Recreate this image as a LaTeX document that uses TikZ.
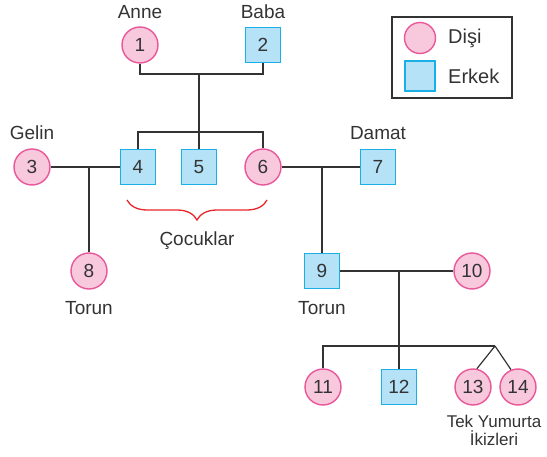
\documentclass[tikz,border=0pt]{standalone}
\usepackage{fontspec}
\setmainfont{Liberation Sans}
\usetikzlibrary{decorations.pathreplacing}
\definecolor{pinkfill}{HTML}{F8C9DC}
\definecolor{pinkline}{HTML}{E9579A}
\definecolor{bluefill}{HTML}{B5E2F7}
\definecolor{blueline}{HTML}{1AAFE6}
\definecolor{linegray}{HTML}{333333}
\definecolor{bracered}{HTML}{E8262A}
\begin{document}
\begin{tikzpicture}[x=1pt,y=-1pt,
  female/.style={circle,draw=pinkline,fill=pinkfill,line width=1.4pt,minimum size=36pt,inner sep=0pt,font=\fontsize{19}{22}\selectfont,text=linegray},
  male/.style={rectangle,draw=blueline,fill=bluefill,line width=1.4pt,minimum size=35pt,inner sep=0pt,font=\fontsize{19}{22}\selectfont,text=linegray},
  lbl/.style={font=\fontsize{19}{22}\selectfont,text=linegray,inner sep=0pt},
  conn/.style={draw=linegray,line width=1.2pt}]
\useasboundingbox (0,0) rectangle (547,457);
% nodes
\node[female] (n1) at (140,45) {1};
\node[male] (n2) at (263,45) {2};
\node[female] (n3) at (32,167) {3};
\node[male] (n4) at (138,167) {4};
\node[male] (n5) at (199,167) {5};
\node[female] (n6) at (263,167) {6};
\node[male] (n7) at (378,167) {7};
\node[female] (n8) at (89,271) {8};
\node[male] (n9) at (322,271) {9};
\node[female] (n10) at (472,271) {10};
\node[female] (n11) at (323,387) {11};
\node[male] (n12) at (399,387) {12};
\node[female] (n13) at (473,387) {13};
\node[female] (n14) at (518,387) {14};
% labels
\node[lbl] (lanne) at (140,12) {Anne};
\node[lbl] (lbaba) at (263,12) {Baba};
\node[lbl] (lgelin) at (32,133) {Gelin};
\node[lbl] (ldamat) at (378,133) {Damat};
\node[lbl] (ltorun1) at (89,308) {Torun};
\node[lbl] (ltorun2) at (322,308) {Torun};
\node[lbl] (lcocuk) at (197,241) {Çocuklar};
\node[lbl,font=\fontsize{17}{19}\selectfont,align=center] (ltwins) at (494,430) {Tek Yumurta\\[-1pt]İkizleri};
% coordinates
\coordinate (p12) at (199,74);
\coordinate (c1) at (199,132);
\coordinate (m34) at (89,167);
\coordinate (m67) at (322,167);
\coordinate (m910) at (399,271);
\coordinate (tw) at (495,346);
% connectors
\draw[conn] (n1.south) |- (p12) -| (n2.south);
\draw[conn] (p12) -- (n5.north);
\draw[conn] (n4.north) |- (c1) -| (n6.north);
\draw[conn] (n3.east) -- (n4.west);
\draw[conn] (m34) -- (n8.north);
\draw[conn] (n6.east) -- (n7.west);
\draw[conn] (m67) -- (n9.north);
\draw[conn] (n9.east) -- (n10.west);
\draw[conn] (m910) -- (n12.north);
\draw[conn] (n11.north) |- (tw);
\draw[conn] (tw) -- (n13.78);
\draw[conn] (tw) -- (n14.112);
% brace
\draw[draw=bracered,line width=1.3pt,decorate,decoration={brace,mirror,amplitude=20pt}] (127,200) -- (267,200);
% legend
\node[draw=linegray,line width=1.4pt,minimum width=120pt,minimum height=81pt,inner sep=0pt] (legend) at (452,57.5) {};
\node[female,minimum size=31pt] (lf) at (420,38) {};
\node[male,minimum size=30pt] (lm) at (420,76) {};
\node[lbl,anchor=west,font=\fontsize{20}{22}\selectfont] (ldisi) at (448,38) {Dişi};
\node[lbl,anchor=west,font=\fontsize{20}{22}\selectfont] (lerkek) at (448,76) {Erkek};
\end{tikzpicture}
\end{document}
